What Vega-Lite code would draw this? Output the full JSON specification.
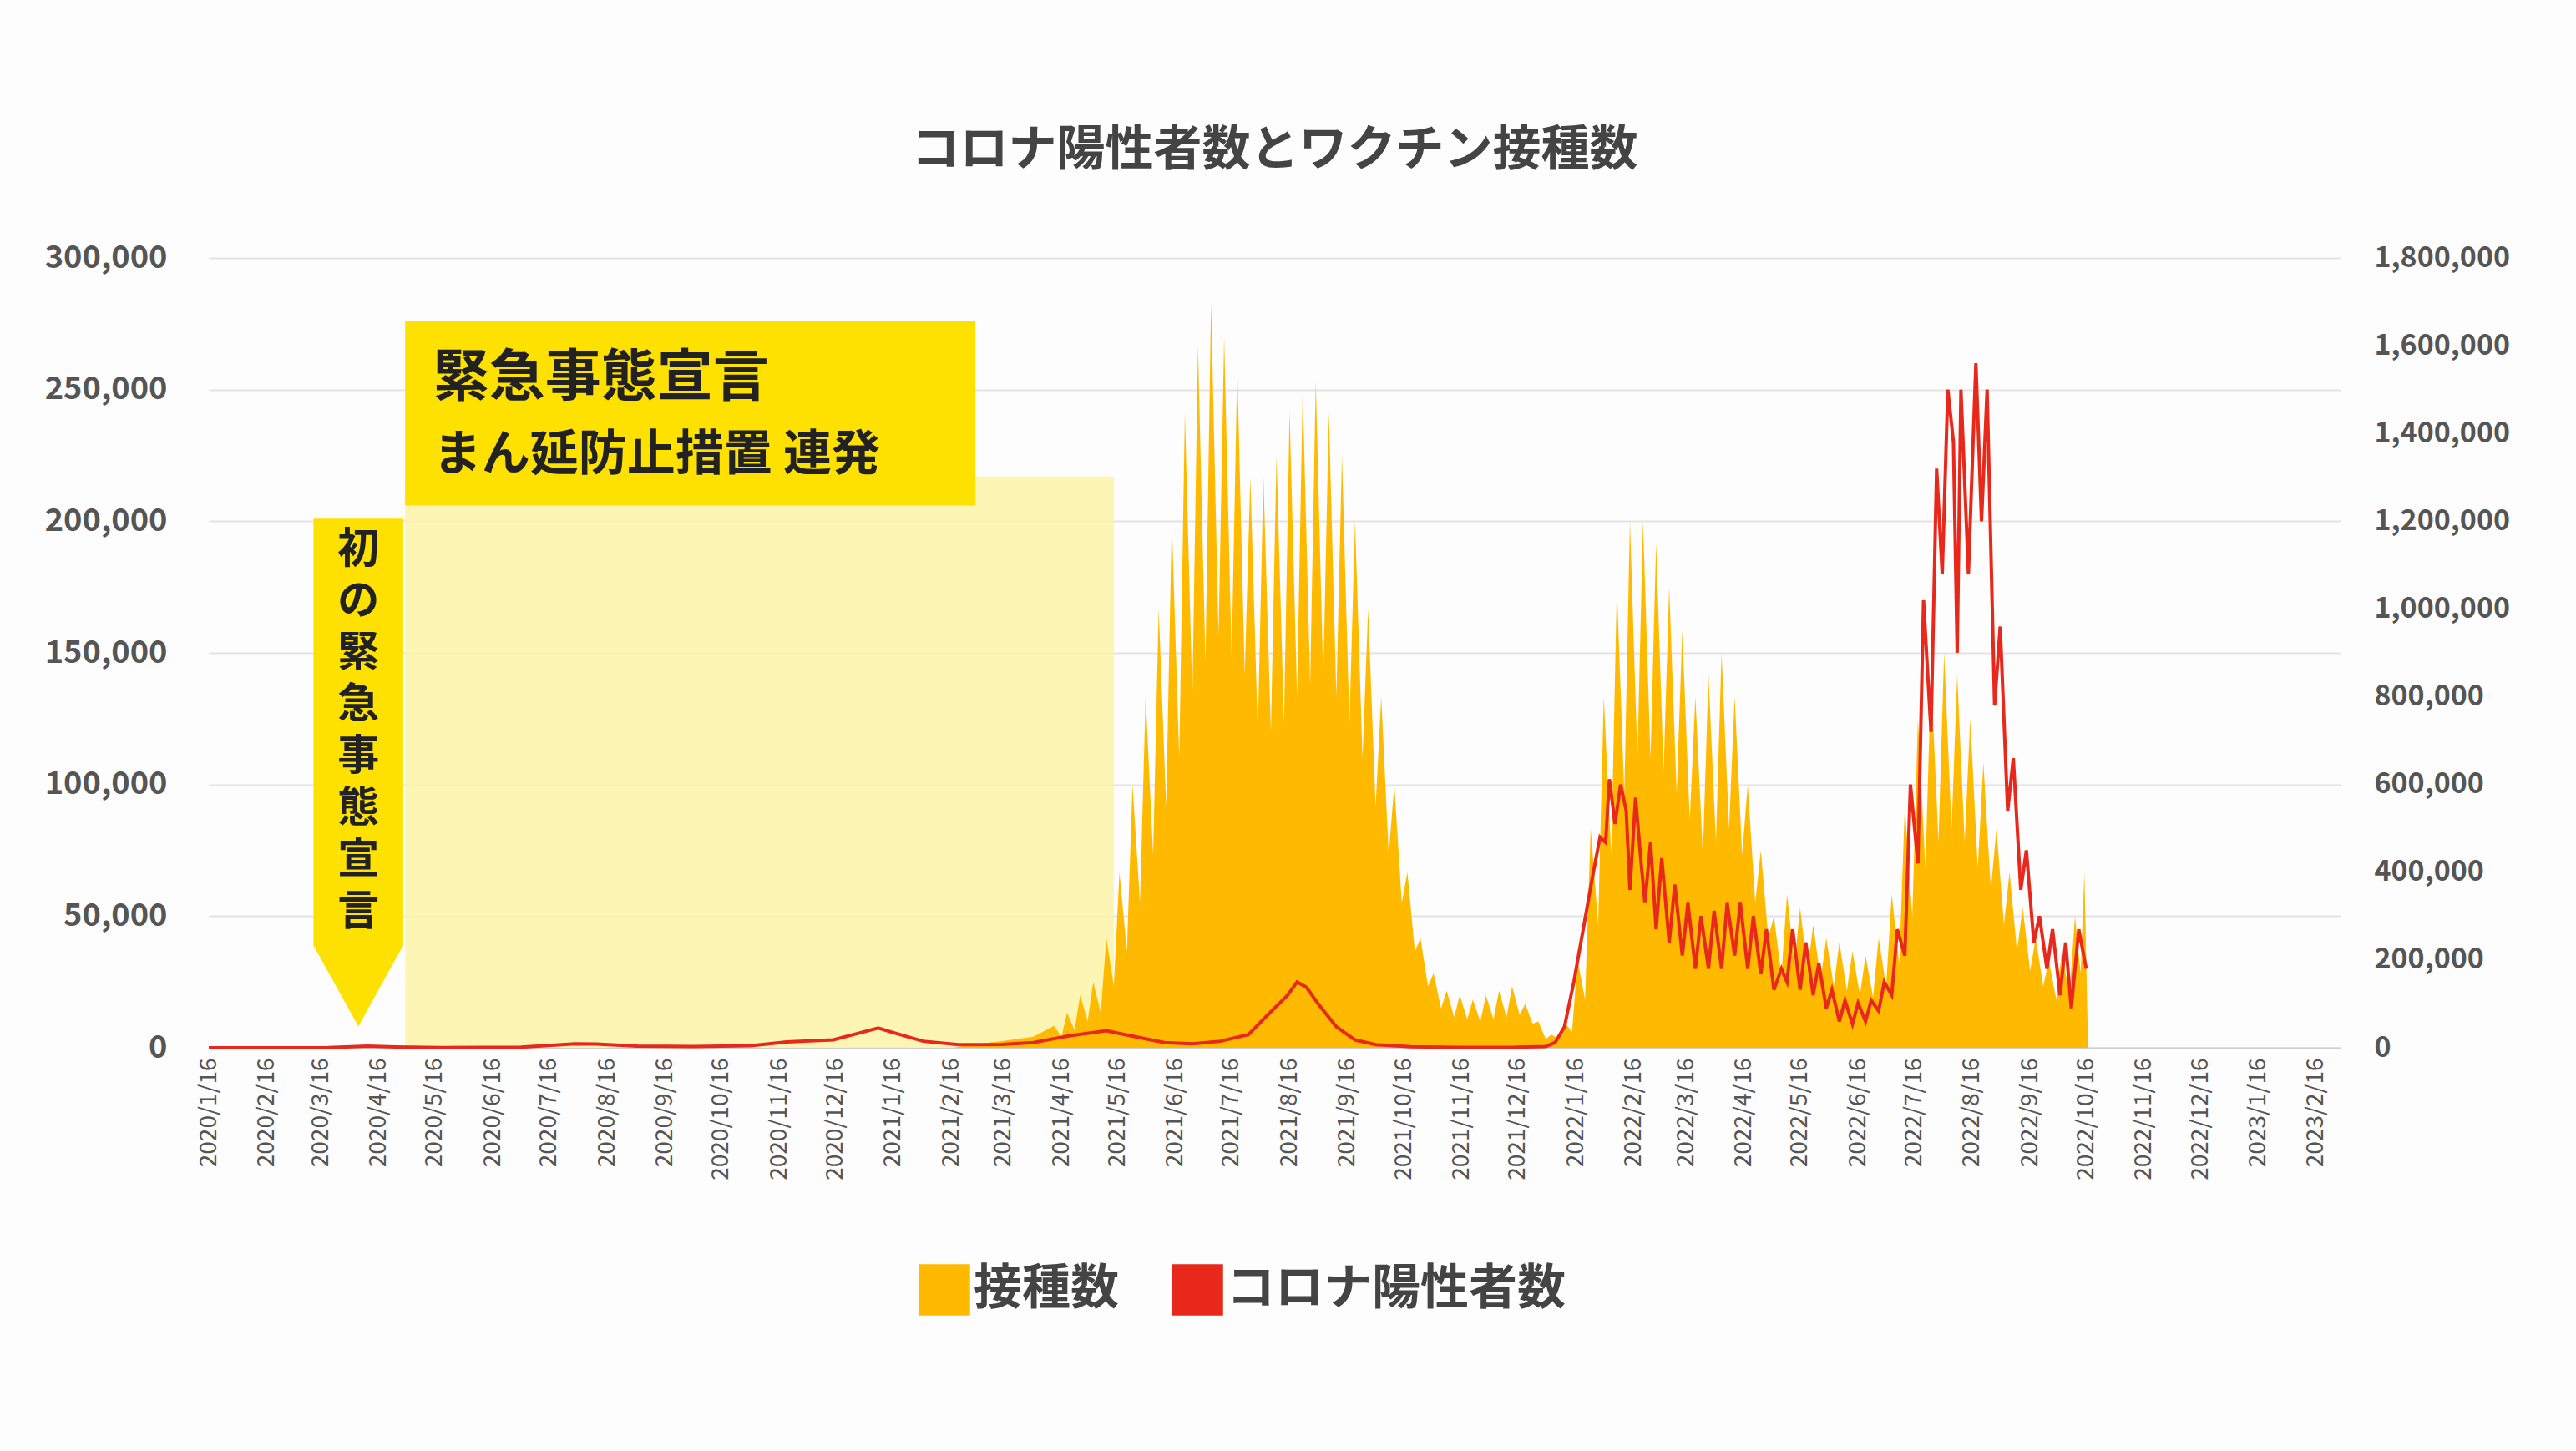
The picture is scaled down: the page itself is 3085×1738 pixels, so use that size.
{
"$schema":"https://vega.github.io/schema/vega-lite/v6.json",
"width":2553,"height":946,
"autosize":"none",
"padding":{"left":250,"top":309,"right":282,"bottom":483},
"background":"#FDFDFD",
"title":{"text":"コロナ陽性者数とワクチン接種数","fontSize":58,"fontWeight":"bold","color":"#444444","font":"Noto Sans CJK JP","offset":80},
"config":{"view":{"stroke":null},"font":"Noto Sans CJK JP"},
"datasets":{
"ann":[{"s":"2020-04-30","e":"2021-05-14","top":217000,"bot":0}],
"box":[{"s":"2020-04-30","e":"2021-03-01","top":276000,"bot":206000}],
"arrow":[{"s":"2020-03-12","e":"2020-04-29","top":201000,"bot":39000,"m":"2020-04-05"}],
"txt":[{"d":"2020-05-15","v":254000,"t":"緊急事態宣言","fs":67},{"d":"2020-05-15","v":225000,"t":"まん延防止措置 連発","fs":58}],
"vtxt":[{"d":"2020-04-05","v":197000,"t":"初\nの\n緊\n急\n事\n態\n宣\n言"}],
"vac":[{"d":"2021-02-17","v":0},{"d":"2021-03-01","v":8000},{"d":"2021-03-15","v":15000},{"d":"2021-04-01","v":25000},{"d":"2021-04-12","v":50000},{"d":"2021-04-16","v":25000},{"d":"2021-04-19","v":80000},{"d":"2021-04-23","v":40000},{"d":"2021-04-26","v":120000},{"d":"2021-04-30","v":60000},{"d":"2021-05-03","v":150000},{"d":"2021-05-07","v":80000},
{"d":"2021-05-10","v":250000},{"d":"2021-05-14","v":140000},{"d":"2021-05-17","v":400000},{"d":"2021-05-21","v":220000},{"d":"2021-05-24","v":600000},{"d":"2021-05-28","v":330000},{"d":"2021-05-31","v":800000},{"d":"2021-06-04","v":440000},{"d":"2021-06-07","v":1000000},{"d":"2021-06-11","v":550000},{"d":"2021-06-14","v":1200000},{"d":"2021-06-18","v":660000},{"d":"2021-06-21","v":1450000},{"d":"2021-06-25","v":800000},{"d":"2021-06-28","v":1600000},{"d":"2021-07-02","v":880000},{"d":"2021-07-05","v":1700000},{"d":"2021-07-09","v":940000},{"d":"2021-07-12","v":1620000},{"d":"2021-07-16","v":890000},{"d":"2021-07-19","v":1550000},{"d":"2021-07-23","v":850000},{"d":"2021-07-26","v":1300000},{"d":"2021-07-30","v":720000},{"d":"2021-08-02","v":1300000},{"d":"2021-08-06","v":720000},{"d":"2021-08-09","v":1350000},{"d":"2021-08-13","v":740000},{"d":"2021-08-16","v":1450000},{"d":"2021-08-20","v":800000},{"d":"2021-08-23","v":1500000},{"d":"2021-08-27","v":830000},{"d":"2021-08-30","v":1520000},{"d":"2021-09-03","v":840000},{"d":"2021-09-06","v":1450000},{"d":"2021-09-10","v":800000},{"d":"2021-09-13","v":1350000},{"d":"2021-09-17","v":740000},{"d":"2021-09-20","v":1200000},{"d":"2021-09-24","v":660000},{"d":"2021-09-27","v":1000000},{"d":"2021-10-01","v":550000},{"d":"2021-10-04","v":800000},{"d":"2021-10-08","v":440000},{"d":"2021-10-11","v":600000},{"d":"2021-10-15","v":330000},{"d":"2021-10-18","v":400000},{"d":"2021-10-22","v":220000},{"d":"2021-10-25","v":250000},{"d":"2021-10-29","v":140000},{"d":"2021-11-01","v":170000},{"d":"2021-11-05","v":90000},{"d":"2021-11-08","v":130000},{"d":"2021-11-12","v":70000},{"d":"2021-11-15","v":120000},{"d":"2021-11-19","v":65000},{"d":"2021-11-22","v":110000},{"d":"2021-11-26","v":60000},{"d":"2021-11-29","v":120000},{"d":"2021-12-03","v":65000},{"d":"2021-12-06","v":130000},{"d":"2021-12-10","v":70000},{"d":"2021-12-13","v":140000},{"d":"2021-12-17","v":75000},{"d":"2021-12-20","v":100000},{"d":"2021-12-24","v":55000},{"d":"2021-12-27","v":60000},{"d":"2021-12-31","v":20000},
{"d":"2022-01-03","v":30000},{"d":"2022-01-07","v":20000},{"d":"2022-01-10","v":60000},{"d":"2022-01-14","v":35000},{"d":"2022-01-17","v":200000},{"d":"2022-01-21","v":110000},{"d":"2022-01-24","v":500000},{"d":"2022-01-28","v":280000},{"d":"2022-01-31","v":800000},{"d":"2022-02-04","v":440000},{"d":"2022-02-07","v":1050000},{"d":"2022-02-11","v":580000},{"d":"2022-02-14","v":1200000},{"d":"2022-02-18","v":660000},{"d":"2022-02-21","v":1200000},{"d":"2022-02-25","v":660000},{"d":"2022-02-28","v":1150000},{"d":"2022-03-04","v":630000},{"d":"2022-03-07","v":1050000},{"d":"2022-03-11","v":580000},{"d":"2022-03-14","v":950000},{"d":"2022-03-18","v":520000},{"d":"2022-03-21","v":800000},{"d":"2022-03-25","v":440000},{"d":"2022-03-28","v":850000},{"d":"2022-04-01","v":470000},{"d":"2022-04-04","v":900000},{"d":"2022-04-08","v":500000},{"d":"2022-04-11","v":800000},{"d":"2022-04-15","v":440000},{"d":"2022-04-18","v":600000},{"d":"2022-04-22","v":330000},{"d":"2022-04-25","v":450000},{"d":"2022-04-29","v":250000},{"d":"2022-05-02","v":300000},{"d":"2022-05-06","v":165000},{"d":"2022-05-09","v":350000},{"d":"2022-05-13","v":190000},{"d":"2022-05-16","v":320000},{"d":"2022-05-20","v":175000},{"d":"2022-05-23","v":280000},{"d":"2022-05-27","v":155000},{"d":"2022-05-30","v":250000},{"d":"2022-06-03","v":140000},{"d":"2022-06-06","v":240000},{"d":"2022-06-10","v":130000},{"d":"2022-06-13","v":220000},{"d":"2022-06-17","v":120000},{"d":"2022-06-20","v":210000},{"d":"2022-06-24","v":115000},{"d":"2022-06-27","v":250000},{"d":"2022-07-01","v":140000},{"d":"2022-07-04","v":350000},{"d":"2022-07-08","v":190000},{"d":"2022-07-11","v":550000},{"d":"2022-07-15","v":300000},{"d":"2022-07-18","v":750000},{"d":"2022-07-22","v":410000},{"d":"2022-07-25","v":850000},{"d":"2022-07-29","v":470000},{"d":"2022-08-01","v":900000},{"d":"2022-08-05","v":500000},{"d":"2022-08-08","v":850000},{"d":"2022-08-12","v":470000},{"d":"2022-08-15","v":750000},{"d":"2022-08-19","v":410000},{"d":"2022-08-22","v":650000},{"d":"2022-08-26","v":360000},{"d":"2022-08-29","v":500000},{"d":"2022-09-02","v":280000},{"d":"2022-09-05","v":400000},{"d":"2022-09-09","v":220000},{"d":"2022-09-12","v":320000},{"d":"2022-09-16","v":175000},{"d":"2022-09-19","v":250000},{"d":"2022-09-23","v":140000},{"d":"2022-09-26","v":200000},{"d":"2022-09-30","v":110000},{"d":"2022-10-03","v":220000},{"d":"2022-10-07","v":120000},{"d":"2022-10-10","v":300000},{"d":"2022-10-13","v":170000},{"d":"2022-10-15","v":400000},{"d":"2022-10-17","v":0}],
"cases":[{"d":"2020-01-16","v":0},{"d":"2020-03-20","v":50},{"d":"2020-04-10","v":600},{"d":"2020-04-25","v":300},{"d":"2020-05-20","v":50},{"d":"2020-07-01","v":200},{"d":"2020-07-30","v":1500},{"d":"2020-08-10","v":1400},{"d":"2020-09-01","v":600},{"d":"2020-10-01","v":500},{"d":"2020-11-01","v":800},{"d":"2020-11-20","v":2200},{"d":"2020-12-15","v":3000},{"d":"2021-01-08","v":7500},{"d":"2021-01-15","v":6000},{"d":"2021-02-01","v":2500},{"d":"2021-02-20","v":1200},{"d":"2021-03-15","v":1300},{"d":"2021-04-01","v":2000},{"d":"2021-04-20","v":4500},{"d":"2021-05-10","v":6500},{"d":"2021-05-20","v":5000},{"d":"2021-06-10","v":2000},{"d":"2021-06-25","v":1500},{"d":"2021-07-10","v":2500},{"d":"2021-07-25","v":5000},{"d":"2021-08-05","v":13000},{"d":"2021-08-15","v":20000},{"d":"2021-08-20","v":25000},{"d":"2021-08-25","v":23000},{"d":"2021-09-01","v":16000},{"d":"2021-09-10","v":8000},{"d":"2021-09-20","v":3000},{"d":"2021-10-01","v":1200},{"d":"2021-10-20","v":400},{"d":"2021-11-15","v":150},{"d":"2021-12-15","v":200},{"d":"2021-12-31","v":500},{"d":"2022-01-05","v":2000},{"d":"2022-01-10","v":8000},{"d":"2022-01-15","v":25000},{"d":"2022-01-20","v":45000},{"d":"2022-01-25","v":65000},{"d":"2022-01-29","v":80000},{"d":"2022-02-01","v":78000},{"d":"2022-02-03","v":102000},{"d":"2022-02-06","v":85000},{"d":"2022-02-09","v":100000},{"d":"2022-02-12","v":90000},{"d":"2022-02-14","v":60000},{"d":"2022-02-17","v":95000},{"d":"2022-02-20","v":70000},{"d":"2022-02-22","v":55000},{"d":"2022-02-25","v":78000},{"d":"2022-02-28","v":45000},{"d":"2022-03-03","v":72000},{"d":"2022-03-07","v":40000},{"d":"2022-03-10","v":62000},{"d":"2022-03-14","v":35000},{"d":"2022-03-17","v":55000},{"d":"2022-03-21","v":30000},{"d":"2022-03-24","v":50000},{"d":"2022-03-28","v":30000},{"d":"2022-03-31","v":52000},{"d":"2022-04-04","v":30000},{"d":"2022-04-07","v":55000},{"d":"2022-04-11","v":35000},{"d":"2022-04-14","v":55000},{"d":"2022-04-18","v":30000},{"d":"2022-04-21","v":50000},{"d":"2022-04-25","v":28000},{"d":"2022-04-28","v":45000},{"d":"2022-05-02","v":22000},{"d":"2022-05-06","v":30000},{"d":"2022-05-09","v":25000},{"d":"2022-05-12","v":45000},{"d":"2022-05-16","v":22000},{"d":"2022-05-19","v":40000},{"d":"2022-05-23","v":20000},{"d":"2022-05-26","v":32000},{"d":"2022-05-30","v":15000},{"d":"2022-06-02","v":22000},{"d":"2022-06-06","v":10000},{"d":"2022-06-09","v":18000},{"d":"2022-06-13","v":9000},{"d":"2022-06-16","v":17000},{"d":"2022-06-20","v":10000},{"d":"2022-06-23","v":18000},{"d":"2022-06-27","v":14000},{"d":"2022-06-30","v":25000},{"d":"2022-07-04","v":20000},{"d":"2022-07-07","v":45000},{"d":"2022-07-11","v":35000},{"d":"2022-07-14","v":100000},{"d":"2022-07-18","v":70000},{"d":"2022-07-21","v":170000},{"d":"2022-07-25","v":120000},{"d":"2022-07-28","v":220000},{"d":"2022-07-31","v":180000},{"d":"2022-08-03","v":250000},{"d":"2022-08-06","v":230000},{"d":"2022-08-08","v":150000},{"d":"2022-08-10","v":250000},{"d":"2022-08-14","v":180000},{"d":"2022-08-18","v":260000},{"d":"2022-08-21","v":200000},{"d":"2022-08-24","v":250000},{"d":"2022-08-28","v":130000},{"d":"2022-08-31","v":160000},{"d":"2022-09-04","v":90000},{"d":"2022-09-07","v":110000},{"d":"2022-09-11","v":60000},{"d":"2022-09-14","v":75000},{"d":"2022-09-18","v":40000},{"d":"2022-09-21","v":50000},{"d":"2022-09-25","v":30000},{"d":"2022-09-28","v":45000},{"d":"2022-10-02","v":20000},{"d":"2022-10-05","v":40000},{"d":"2022-10-08","v":15000},{"d":"2022-10-12","v":45000},{"d":"2022-10-16","v":30000}]
},
"resolve":{"scale":{"y":"independent"}},
"layer":[
{"layer":[
 {"data":{"name":"ann"},"mark":{"type":"rect","color":"#FBF3A6","opacity":0.85},
  "encoding":{"x":{"field":"s","type":"temporal","scale":{"type":"utc","domain":["2020-01-16","2023-03-01"]},
    "axis":{"values":[{"year":2020,"month":1,"date":16,"utc":true},{"year":2020,"month":2,"date":16,"utc":true},{"year":2020,"month":3,"date":16,"utc":true},{"year":2020,"month":4,"date":16,"utc":true},{"year":2020,"month":5,"date":16,"utc":true},{"year":2020,"month":6,"date":16,"utc":true},{"year":2020,"month":7,"date":16,"utc":true},{"year":2020,"month":8,"date":16,"utc":true},{"year":2020,"month":9,"date":16,"utc":true},{"year":2020,"month":10,"date":16,"utc":true},{"year":2020,"month":11,"date":16,"utc":true},{"year":2020,"month":12,"date":16,"utc":true},{"year":2021,"month":1,"date":16,"utc":true},{"year":2021,"month":2,"date":16,"utc":true},{"year":2021,"month":3,"date":16,"utc":true},{"year":2021,"month":4,"date":16,"utc":true},{"year":2021,"month":5,"date":16,"utc":true},{"year":2021,"month":6,"date":16,"utc":true},{"year":2021,"month":7,"date":16,"utc":true},{"year":2021,"month":8,"date":16,"utc":true},{"year":2021,"month":9,"date":16,"utc":true},{"year":2021,"month":10,"date":16,"utc":true},{"year":2021,"month":11,"date":16,"utc":true},{"year":2021,"month":12,"date":16,"utc":true},{"year":2022,"month":1,"date":16,"utc":true},{"year":2022,"month":2,"date":16,"utc":true},{"year":2022,"month":3,"date":16,"utc":true},{"year":2022,"month":4,"date":16,"utc":true},{"year":2022,"month":5,"date":16,"utc":true},{"year":2022,"month":6,"date":16,"utc":true},{"year":2022,"month":7,"date":16,"utc":true},{"year":2022,"month":8,"date":16,"utc":true},{"year":2022,"month":9,"date":16,"utc":true},{"year":2022,"month":10,"date":16,"utc":true},{"year":2022,"month":11,"date":16,"utc":true},{"year":2022,"month":12,"date":16,"utc":true},{"year":2023,"month":1,"date":16,"utc":true},{"year":2023,"month":2,"date":16,"utc":true}],
     "labelExpr":"utcFormat(datum.value,'%Y/%-m/%-d')","labelAngle":-90,"labelFontSize":28,"labelColor":"#555555","title":null,"grid":false,"ticks":false,"domainColor":"#D0D0D0","domainWidth":2,"labelPadding":12}},
   "x2":{"field":"e"},
   "y":{"field":"top","type":"quantitative","scale":{"domain":[0,300000]},"axis":{"orient":"left","values":[0,50000,100000,150000,200000,250000,300000],"format":",d","labelFontSize":38,"labelFontWeight":"bold","labelColor":"#555555","title":null,"ticks":false,"domain":false,"gridColor":"#E3E3E3","gridWidth":2,"labelPadding":50}},
   "y2":{"field":"bot"}}},
 {"data":{"name":"box"},"mark":{"type":"rect","color":"#FFE100"},
  "encoding":{"x":{"field":"s","type":"temporal"},"x2":{"field":"e"},"y":{"field":"top","type":"quantitative"},"y2":{"field":"bot"}}},
 {"data":{"name":"arrow"},"mark":{"type":"rect","color":"#FFE100"},
  "encoding":{"x":{"field":"s","type":"temporal"},"x2":{"field":"e"},"y":{"field":"top","type":"quantitative"},"y2":{"field":"bot"}}},
 {"data":{"name":"arrow"},"mark":{"type":"point","filled":true,"color":"#FFE100","opacity":1,"size":11664,"shape":"M-1,0L1,0L0,1.8Z"},
  "encoding":{"x":{"field":"m","type":"temporal"},"y":{"field":"bot","type":"quantitative"}}},
 {"data":{"name":"txt"},"mark":{"type":"text","align":"left","baseline":"middle","fontWeight":"bold","color":"#222222"},
  "encoding":{"x":{"field":"d","type":"temporal"},"y":{"field":"v","type":"quantitative"},"text":{"field":"t"},"size":{"field":"fs","type":"quantitative","scale":null}}},
 {"data":{"name":"vtxt"},"mark":{"type":"text","align":"center","baseline":"top","fontWeight":"bold","fontSize":50,"lineHeight":62,"lineBreak":"\n","color":"#222222"},
  "encoding":{"x":{"field":"d","type":"temporal"},"y":{"field":"v","type":"quantitative"},"text":{"field":"t"}}}
]},
{"data":{"name":"vac"},"mark":{"type":"area","interpolate":"linear"},
 "encoding":{"x":{"field":"d","type":"temporal"},
  "y":{"field":"v","type":"quantitative","scale":{"domain":[0,1800000]},"axis":{"orient":"right","values":[0,200000,400000,600000,800000,1000000,1200000,1400000,1600000,1800000],"format":",d","labelFontSize":34,"labelFontWeight":"bold","labelColor":"#555555","title":null,"ticks":false,"domain":false,"grid":false,"labelPadding":40}},
  "color":{"datum":"接種数","type":"nominal","scale":{"domain":["接種数","コロナ陽性者数"],"range":["#FFBA00","#E8281A"]},
   "legend":{"title":null,"orient":"none","legendX":850,"legendY":1205,"direction":"horizontal","labelFontSize":58,"labelFontWeight":"bold","labelColor":"#444444","symbolType":"square","symbolSize":3600,"columnPadding":60,"labelLimit":800}}}},
{"data":{"name":"cases"},"mark":{"type":"line","strokeWidth":4,"interpolate":"linear"},
 "encoding":{"x":{"field":"d","type":"temporal"},
  "y":{"field":"v","type":"quantitative","scale":{"domain":[0,300000]},"axis":null},
  "color":{"datum":"コロナ陽性者数","type":"nominal"}}}
]
}
